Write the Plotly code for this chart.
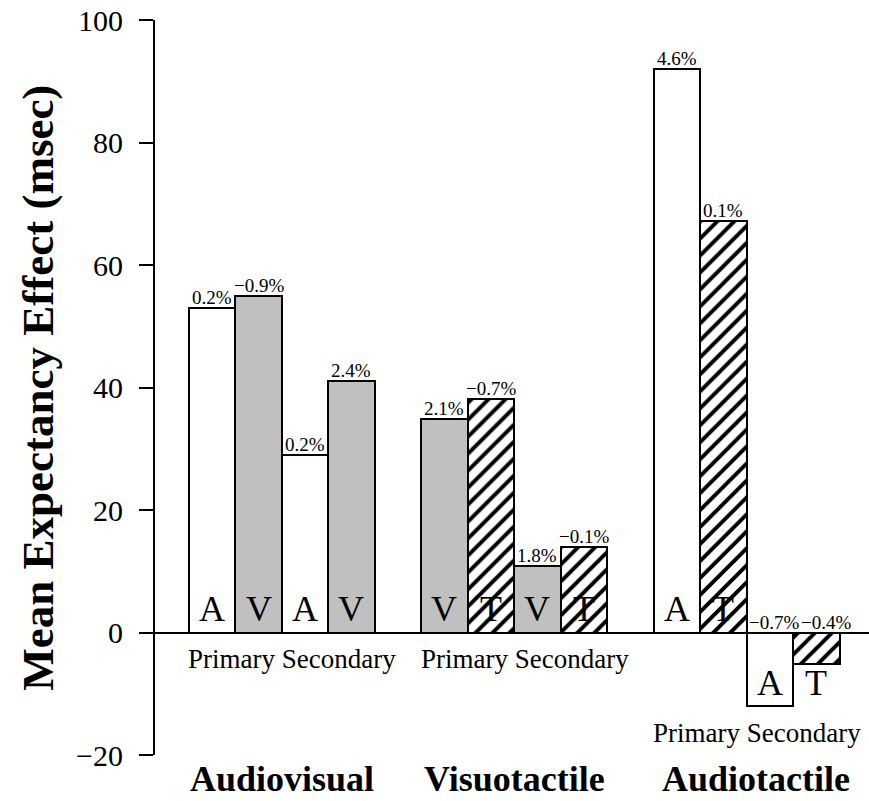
import plotly.graph_objects as go

# ---- data ----
groups = ["Audiovisual", "Visuotactile", "Audiotactile"]
sub_label = "Primary Secondary"
modalities = [["A", "V", "A", "V"],
              ["V", "T", "V", "T"],
              ["A", "T", "A", "T"]]
values = [[53, 55, 29, 41],
          [34.8, 38.1, 10.9, 13.9],
          [92, 67.2, -12, -5.2]]
error_pct = [["0.2%", "\u22120.9%", "0.2%", "2.4%"],
             ["2.1%", "\u22120.7%", "1.8%", "\u22120.1%"],
             ["4.6%", "0.1%", "\u22120.7%", "\u22120.4%"]]
y_ticks = [-20, 0, 20, 40, 60, 80, 100]

# ---- styles ----
FONT = "Liberation Serif, Times New Roman, serif"
GROUP_SLOTS = 5  # 4 bars + 1 gap
style = {
    "A": dict(color="white"),
    "V": dict(color="#c0c0c0"),
    "T": dict(color="white", pattern=dict(shape="/", fgcolor="black", bgcolor="white",
                                          size=12, solidity=0.33, fgopacity=1)),
}

fig = go.Figure()
for mod in ["A", "V", "T"]:
    xs, ys = [], []
    for g, (mods, vals) in enumerate(zip(modalities, values)):
        for b, (m, v) in enumerate(zip(mods, vals)):
            if m == mod:
                xs.append(g * GROUP_SLOTS + b)
                ys.append(v)
    fig.add_trace(go.Bar(x=xs, y=ys, width=1, marker=dict(**style[mod],
                         line=dict(color="black", width=2)), showlegend=False))

annotations = []
for g, (mods, vals, pcts) in enumerate(zip(modalities, values, error_pct)):
    for b, (m, v, p) in enumerate(zip(mods, vals, pcts)):
        x = g * GROUP_SLOTS + b
        shift = 10 if (v < 0 and b == 3) else (4 if v < 0 else 0)
        annotations.append(dict(x=x, y=max(v, 0), text=p, showarrow=False, yanchor="bottom",
                                yshift=-2, xshift=shift,
                                font=dict(family=FONT, size=19, color="black")))
        annotations.append(dict(x=x, y=3.8 if v >= 0 else -8.2, text=m, showarrow=False,
                                yanchor="middle", font=dict(family=FONT, size=36, color="black")))
    has_neg = any(v < 0 for v in vals)
    annotations.append(dict(x=g * GROUP_SLOTS - 0.55, y=-16.4 if has_neg else -4.4, text=sub_label,
                            showarrow=False, xanchor="left", yanchor="middle",
                            font=dict(family=FONT, size=27, color="black")))
    annotations.append(dict(x=g * GROUP_SLOTS + 1.5 + (0.2 if g == 2 else 0), xref="x",
                            y=-0.033, yref="paper", text="<b>%s</b>" % groups[g],
                            showarrow=False, yanchor="middle",
                            font=dict(family=FONT, size=36, color="black")))

annotations.append(dict(x=-0.165, xref="paper", y=0.5, yref="paper",
                        text="<b>Mean Expectancy Effect (msec)</b>", textangle=-90,
                        showarrow=False, xanchor="center", yanchor="middle",
                        font=dict(family=FONT, size=45, color="black")))

fig.update_layout(
    width=869, height=801,
    margin=dict(l=155, r=0, t=20, b=46),
    paper_bgcolor="white", plot_bgcolor="white",
    barmode="overlay", bargap=0,
    annotations=annotations,
    xaxis=dict(range=[-1.226, 14.13], showticklabels=False, showgrid=False,
               zeroline=False, showline=False, ticks=""),
    yaxis=dict(range=[-20, 100], tickvals=y_ticks, showgrid=False,
               showline=True, linecolor="black", linewidth=2,
               ticks="outside", ticklen=14, tickwidth=2, tickcolor="black",
               ticklabelstandoff=10,
               tickfont=dict(family=FONT, size=30, color="black"),
               zeroline=True, zerolinecolor="black", zerolinewidth=2),
)

fig.write_html("out.html")
